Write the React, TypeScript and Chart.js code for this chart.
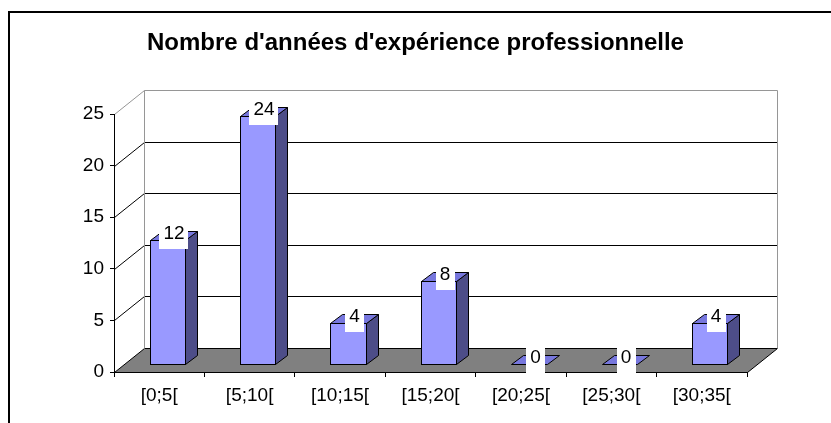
import React, { useEffect, useRef } from "react";
import { Chart, registerables } from "chart.js";

Chart.register(...registerables);

const categories = ["[0;5[", "[5;10[", "[10;15[", "[15;20[", "[20;25[", "[25;30[", "[30;35["];
const values = [12, 24, 4, 8, 0, 0, 4];
const yMin = 0;
const yMax = 25;
const yStep = 5;
const titleText = "Nombre d'années d'expérience professionnelle";

const FONT = "'Liberation Sans', Arial, sans-serif";
const WALL_DX = 30;
const WALL_DY = -24;
const BAR_OX = 8;
const BAR_OY = -8;
const BAR_DX = 12;
const BAR_DY = -9;

const poly = (ctx: CanvasRenderingContext2D, pts: number[][]) => {
  ctx.beginPath();
  ctx.moveTo(pts[0][0], pts[0][1]);
  for (let i = 1; i < pts.length; i++) ctx.lineTo(pts[i][0], pts[i][1]);
  ctx.closePath();
};

const line = (ctx: CanvasRenderingContext2D, x1: number, y1: number, x2: number, y2: number, color: string) => {
  ctx.strokeStyle = color;
  ctx.lineWidth = 1;
  ctx.beginPath();
  ctx.moveTo(x1, y1);
  ctx.lineTo(x2, y2);
  ctx.stroke();
};

const threeD = {
  id: "threeD",
  beforeDraw(chart: any) {
    const { ctx, chartArea: ca, scales } = chart;
    const y = scales.y;
    ctx.save();
    ctx.fillStyle = "#ffffff";
    ctx.fillRect(0, 0, chart.width, chart.height);
    ctx.strokeStyle = "#000000";
    ctx.lineWidth = 2;
    ctx.strokeRect(9, 12, 1000, 800);

    ctx.fillStyle = "#000000";
    ctx.font = `bold 24px ${FONT}`;
    ctx.textAlign = "center";
    ctx.textBaseline = "middle";
    ctx.fillText(titleText, 415.5, 43);

    const y0 = Math.round(y.getPixelForValue(yMin)) + 0.5;
    const L = Math.round(ca.left) + 0.5;
    const R = Math.round(ca.right) + 0.5;
    // floor
    poly(ctx, [
      [L, y0],
      [R, y0],
      [R + WALL_DX, y0 + WALL_DY],
      [L + WALL_DX, y0 + WALL_DY],
    ]);
    ctx.fillStyle = "#808080";
    ctx.fill();
    ctx.strokeStyle = "#000000";
    ctx.lineWidth = 1;
    ctx.stroke();

    // back and side wall gridlines
    for (let v = yMin + yStep; v <= yMax; v += yStep) {
      const py = Math.round(y.getPixelForValue(v)) + 0.5;
      const col = v === yMax ? "#969696" : "#000000";
      line(ctx, L + WALL_DX, py + WALL_DY, R + WALL_DX, py + WALL_DY, col);
      line(ctx, L, py, L + WALL_DX, py + WALL_DY, col);
    }
    const yt = Math.round(y.getPixelForValue(yMax)) + 0.5;
    line(ctx, L + WALL_DX, yt + WALL_DY, L + WALL_DX, y0 + WALL_DY, "#969696");
    line(ctx, R + WALL_DX, yt + WALL_DY, R + WALL_DX, y0 + WALL_DY, "#969696");
    ctx.restore();
  },
  afterDatasetsDraw(chart: any) {
    const { ctx } = chart;
    const meta = chart.getDatasetMeta(0);
    ctx.save();
    ctx.lineWidth = 1;
    ctx.strokeStyle = "#000000";
    const labels: any[] = [];
    meta.data.forEach((el: any, i: number) => {
      const p = el.getProps(["x", "y", "base", "width"], true);
      const l = Math.round(p.x - p.width / 2 + BAR_OX) + 0.5;
      const r = Math.round(p.x + p.width / 2 + BAR_OX) + 0.5;
      const t = Math.round(p.y + BAR_OY) + 0.5;
      const b = Math.round(p.base + BAR_OY) + 0.5;
      if (b - t > 0.5) {
        ctx.fillStyle = "#9999ff";
        ctx.fillRect(l, t, r - l, b - t);
        ctx.strokeRect(l, t, r - l, b - t);
        poly(ctx, [
          [r, t],
          [r + BAR_DX, t + BAR_DY],
          [r + BAR_DX, b + BAR_DY],
          [r, b],
        ]);
        ctx.fillStyle = "#4d4d88";
        ctx.fill();
        ctx.stroke();
      }
      poly(ctx, [
        [l, t],
        [r, t],
        [r + BAR_DX, t + BAR_DY],
        [l + BAR_DX, t + BAR_DY],
      ]);
      ctx.fillStyle = "#7777dd";
      ctx.fill();
      ctx.stroke();
      labels.push({ cx: (l + r) / 2 + BAR_DX / 2, cy: t + BAR_DY / 2, text: String(values[i]) });
    });
    ctx.font = `19px ${FONT}`;
    ctx.textAlign = "center";
    ctx.textBaseline = "middle";
    labels.forEach((lb) => {
      const tw = ctx.measureText(lb.text).width;
      const w = tw + 8;
      const h = 26;
      ctx.fillStyle = "#ffffff";
      ctx.fillRect(Math.round(lb.cx - w / 2), Math.round(lb.cy - h / 2), Math.round(w), h);
      ctx.fillStyle = "#000000";
      ctx.fillText(lb.text, lb.cx, lb.cy - 2);
    });
    ctx.restore();
  },
};

export default function App() {
  const ref = useRef<HTMLCanvasElement>(null);
  useEffect(() => {
    if (!ref.current) return;
    const chart = new Chart(ref.current, {
      type: "bar",
      data: {
        labels: categories,
        datasets: [
          {
            data: values,
            backgroundColor: "rgba(0,0,0,0)",
            borderWidth: 0,
            barPercentage: 0.39,
            categoryPercentage: 1,
          },
        ],
      },
      options: {
        animation: false,
        responsive: false,
        devicePixelRatio: 1,
        layout: { padding: { left: 0, right: 84, top: 114, bottom: 0 } },
        plugins: {
          legend: { display: false },
          tooltip: { enabled: false },
          title: { display: false },
        },
        scales: {
          x: {
            grid: { display: true, drawOnChartArea: false, drawTicks: true, tickLength: 5, color: "#000000" },
            border: { display: true, color: "#000000" },
            ticks: { color: "#000000", font: { family: FONT, size: 19 }, padding: 7, maxRotation: 0, autoSkip: false },
            afterFit: (s: any) => {
              s.height = 51;
            },
          },
          y: {
            min: yMin,
            max: yMax,
            ticks: { stepSize: yStep, color: "#000000", font: { family: FONT, size: 19 }, padding: 6 },
            grid: { display: true, drawOnChartArea: false, drawTicks: true, tickLength: 4, color: "#000000" },
            border: { display: true, color: "#000000" },
            afterFit: (s: any) => {
              s.width = 114;
            },
          },
        },
      },
      plugins: [threeD],
    });
    return () => chart.destroy();
  }, []);
  return (
    <div style={{ position: "absolute", left: 0, top: 0, width: 831, height: 423 }}>
      <canvas ref={ref} width={831} height={423} style={{ display: "block" }} />
    </div>
  );
}
